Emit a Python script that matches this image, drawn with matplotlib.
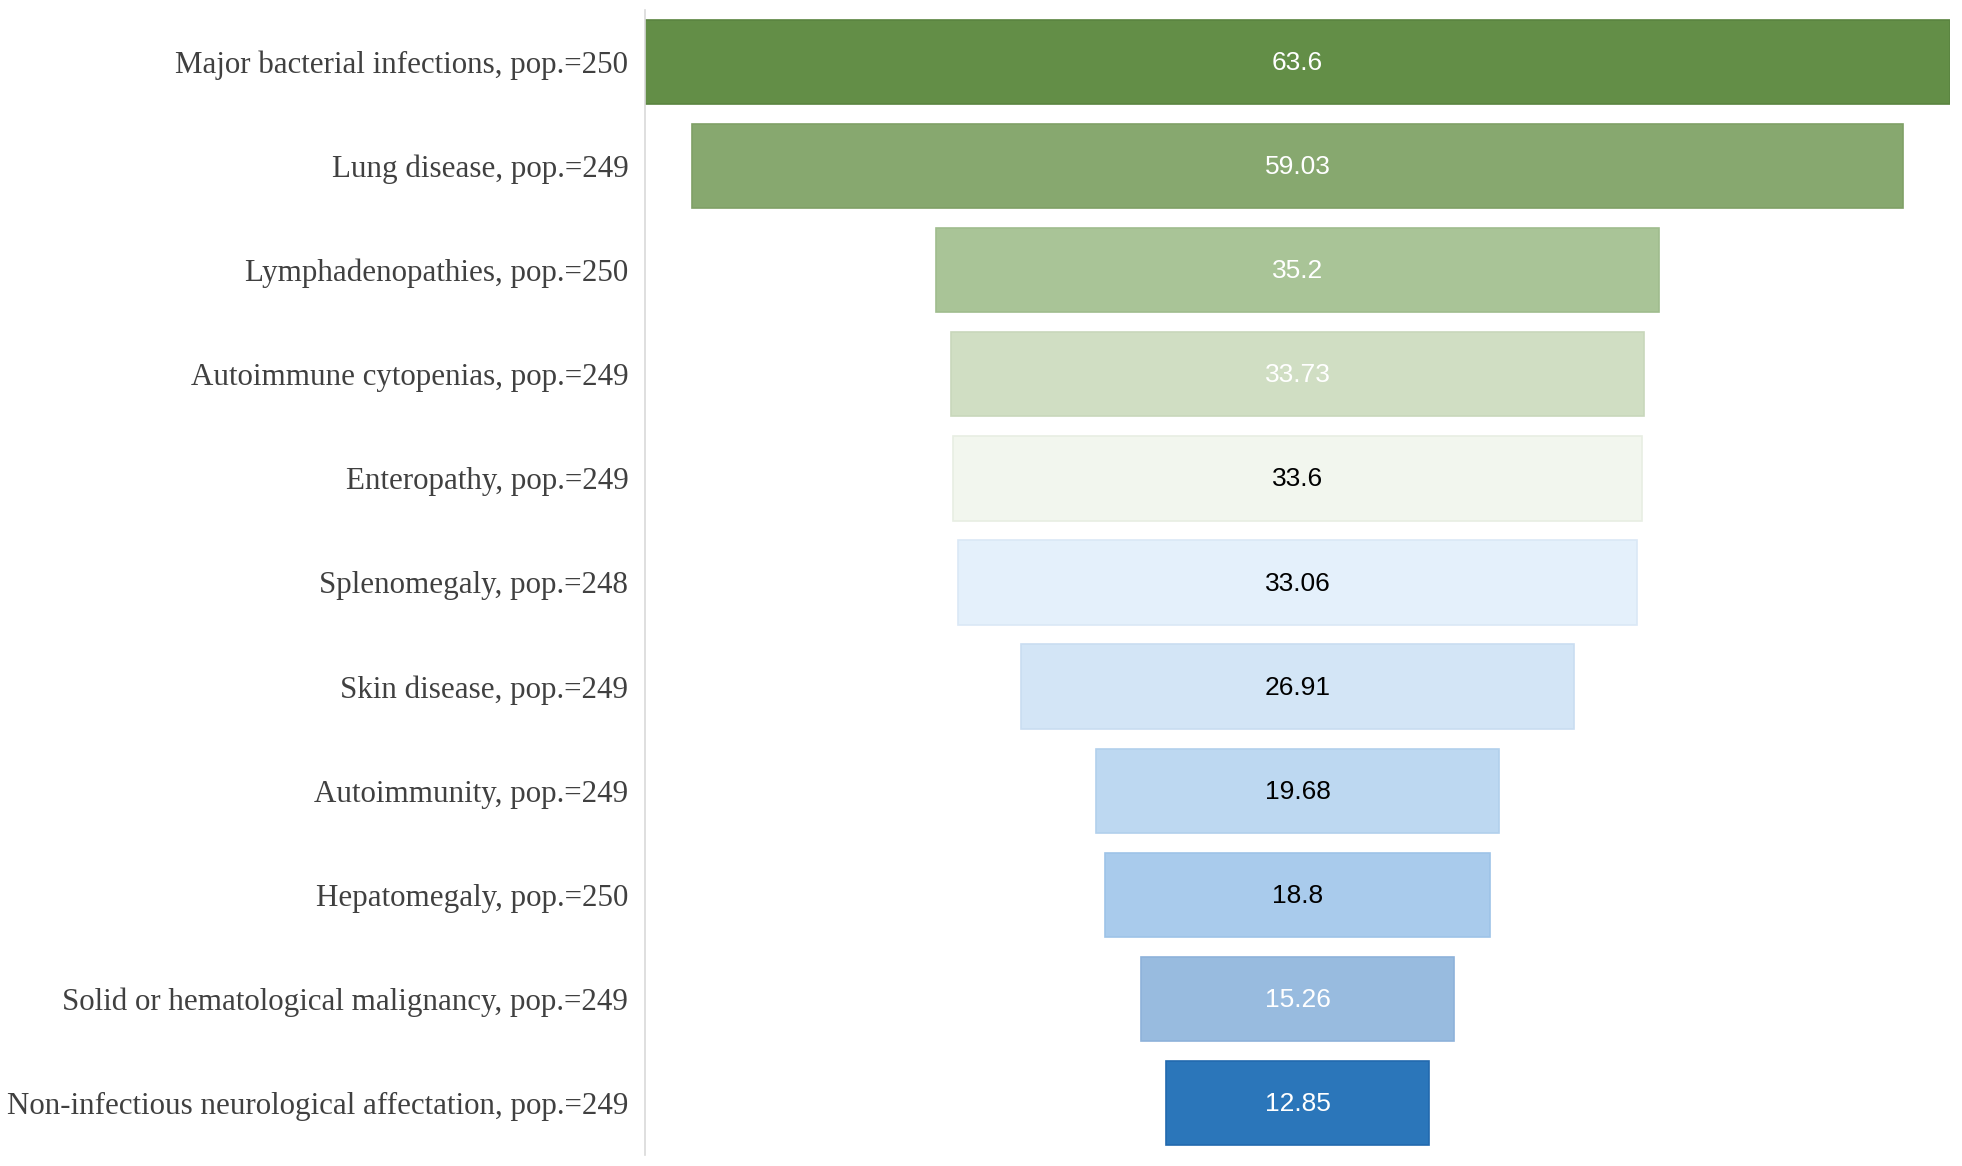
import matplotlib
matplotlib.use("Agg")
import matplotlib.pyplot as plt

categories = [
    "Major bacterial infections, pop.=250",
    "Lung disease, pop.=249",
    "Lymphadenopathies, pop.=250",
    "Autoimmune cytopenias, pop.=249",
    "Enteropathy, pop.=249",
    "Splenomegaly, pop.=248",
    "Skin disease, pop.=249",
    "Autoimmunity, pop.=249",
    "Hepatomegaly, pop.=250",
    "Solid or hematological malignancy, pop.=249",
    "Non-infectious neurological affectation, pop.=249",
]
values = [63.6, 59.03, 35.2, 33.73, 33.6, 33.06, 26.91, 19.68, 18.8, 15.26, 12.85]
value_labels = ["63.6", "59.03", "35.2", "33.73", "33.6", "33.06", "26.91", "19.68", "18.8", "15.26", "12.85"]

colors = ["#638E47", "#87A86F", "#A9C497", "#D0DEC3", "#F2F6EE", "#E4F0FB",
          "#D3E5F6", "#BDD8F1", "#A9CBEC", "#98BBDF", "#2B76BA"]
edges = ["#5A8440", "#7FA066", "#A0BC8E", "#C8D7BB", "#E8EEE3", "#DAE8F6",
         "#C9DDF1", "#B2D0EC", "#9EC3E8", "#8EB2DA", "#2269AE"]
text_colors = ["white", "white", "white", "white", "black", "black",
               "black", "black", "black", "white", "white"]

fig = plt.figure(figsize=(19.62, 11.66), dpi=100)
ax = fig.add_axes([645/1962, 1 - 1155/1166, (1950 - 645)/1962, (1155 - 10)/1166])

ypos = list(range(len(values)))
lefts = [-v / 2 for v in values]
ax.barh(ypos, values, left=lefts, height=0.81, color=colors, edgecolor=edges, linewidth=1.2)

for y, v, lab, tc in zip(ypos, values, value_labels, text_colors):
    ax.text(0, y + 0.01, lab, ha="center", va="center", color=tc, fontsize=19,
            family=["Liberation Sans", "DejaVu Sans"])

vmax = max(values)
ax.set_xlim(-vmax / 2, vmax / 2)
ax.set_ylim(len(values) - 0.5, -0.5)
ax.set_yticks(ypos)
ax.set_yticklabels(categories, fontsize=22.3, color="#404040",
                   family=["Liberation Serif", "DejaVu Serif"])
ax.tick_params(axis="y", length=0, pad=12)
ax.set_xticks([])
for s in ["top", "right", "bottom"]:
    ax.spines[s].set_visible(False)
ax.spines["left"].set_color("#D9D9D9")
ax.spines["left"].set_linewidth(1.2)
ax.set_zorder(1)

fig.savefig("out.png", dpi=100, facecolor="white")
